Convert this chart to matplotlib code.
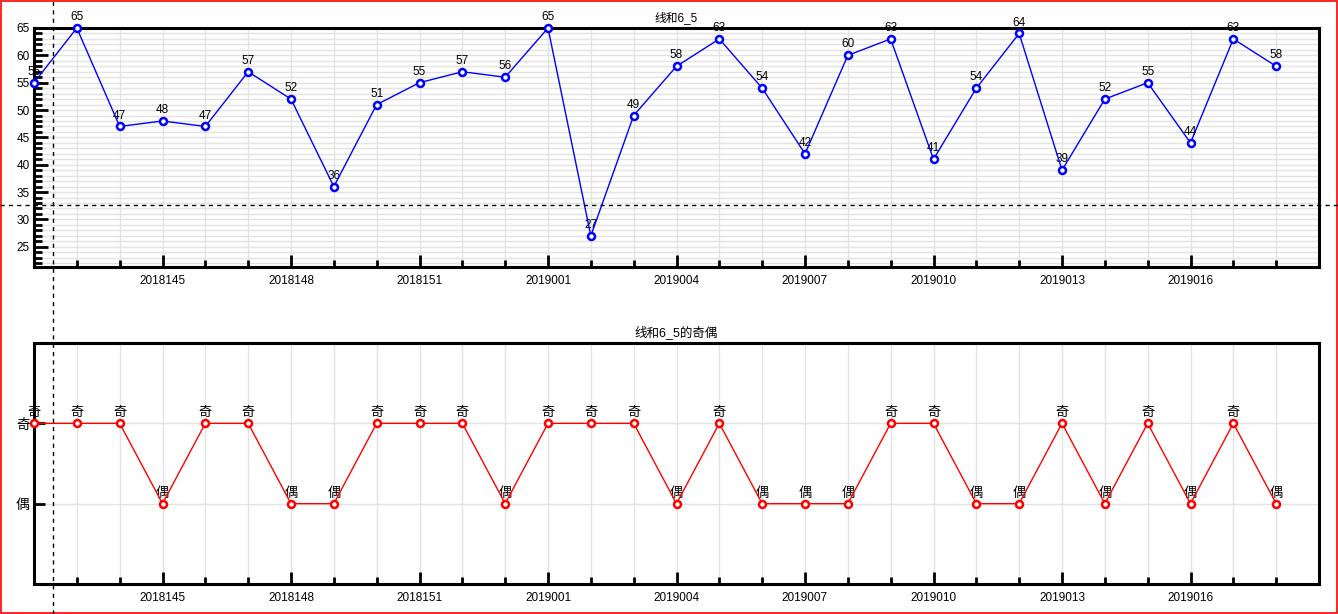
import matplotlib
matplotlib.use("Agg")
import matplotlib.pyplot as plt
from matplotlib.ticker import MultipleLocator, FixedLocator, FixedFormatter
from matplotlib.lines import Line2D
from matplotlib.patches import Rectangle

plt.rcParams['font.family'] = ['Liberation Sans', 'Noto Sans CJK SC', 'DejaVu Sans']

# issue numbers (one per point) and values
issues = ["2018142", "2018143", "2018144", "2018145", "2018146", "2018147",
          "2018148", "2018149", "2018150", "2018151", "2018152", "2018153",
          "2019001", "2019002", "2019003", "2019004", "2019005", "2019006",
          "2019007", "2019008", "2019009", "2019010", "2019011", "2019012",
          "2019013", "2019014", "2019015", "2019016", "2019017", "2019018"]
line_sum = [55, 65, 47, 48, 47, 57, 52, 36, 51, 55, 57, 56, 65, 27, 49,
            58, 63, 54, 42, 60, 63, 41, 54, 64, 39, 52, 55, 44, 63, 58]
parity = ["奇", "奇", "奇", "偶", "奇", "奇", "偶", "偶", "奇", "奇", "奇", "偶",
          "奇", "奇", "奇", "偶", "奇", "偶", "偶", "偶", "奇", "奇", "偶", "偶",
          "奇", "偶", "奇", "偶", "奇", "偶"]
parity_levels = ["偶", "奇"]

xs = list(range(len(issues)))
label_pos = [3, 6, 9, 12, 15, 18, 21, 24, 27]

W, H = 1338, 614
fig = plt.figure(figsize=(W / 100, H / 100), dpi=100)
ax1 = fig.add_axes([34 / W, 1 - 267 / H, (1319 - 34) / W, (267 - 28) / H])
ax2 = fig.add_axes([34 / W, 1 - 584 / H, (1319 - 34) / W, (584 - 343) / H])

grid_c = "#e3e3e3"


def style_axes(ax):
    for s in ax.spines.values():
        s.set_linewidth(2.2)
        s.set_color("black")
    ax.set_xlim(0, 30)
    ax.xaxis.set_major_locator(FixedLocator(list(range(0, 31, 3))))
    ax.xaxis.set_minor_locator(MultipleLocator(1))
    ax.set_xticklabels([issues[i] if i in label_pos else "" for i in range(0, 31, 3)])
    ax.tick_params(axis="x", which="major", direction="in", length=9, width=2,
                   labelsize=8.5, pad=6)
    ax.tick_params(axis="x", which="minor", direction="in", length=5, width=2)
    ax.grid(True, which="both", axis="x", color=grid_c, lw=1)
    ax.set_axisbelow(True)
    # draw x axis (its ticks) after the y grid lines
    ax.yaxis.set_zorder(0.4)
    ax.xaxis.set_zorder(0.6)


# top chart
style_axes(ax1)
ax1.set_ylim(21.3, 65)
ax1.yaxis.set_major_locator(MultipleLocator(5))
ax1.yaxis.set_minor_locator(MultipleLocator(1))
ax1.tick_params(axis="y", which="major", direction="in", length=10, width=2,
                labelsize=8.5, pad=3)
ax1.tick_params(axis="y", which="minor", direction="in", length=6, width=2)
ax1.grid(True, which="both", axis="y", color=grid_c, lw=1)
ax1.plot(xs, line_sum, color="blue", lw=1, marker="o", ms=5, mew=1.8,
         mfc="white", mec="blue", clip_on=False, zorder=5)
for x, v in zip(xs, line_sum):
    ax1.annotate(str(v), (x, v), xytext=(0, 3.5), textcoords="offset points",
                 ha="center", va="bottom", fontsize=8.5, annotation_clip=False)
ax1.set_title("线和6_5", fontsize=8.5, pad=5)

# bottom chart
style_axes(ax2)
pv = [parity_levels.index(p) for p in parity]
ax2.set_ylim(-1, 2)
ax2.yaxis.set_major_locator(FixedLocator([0, 1]))
ax2.yaxis.set_major_formatter(FixedFormatter(parity_levels))
ax2.tick_params(axis="y", which="major", direction="in", length=8, width=2,
                labelsize=10, pad=3)
ax2.grid(True, which="major", axis="y", color=grid_c, lw=1)
ax2.plot(xs, pv, color="red", lw=1, marker="o", ms=5, mew=1.8,
         mfc="white", mec="red", clip_on=False, zorder=5)
for x, v, p in zip(xs, pv, parity):
    ax2.annotate(p, (x, v), xytext=(0, 3), textcoords="offset points",
                 ha="center", va="bottom", fontsize=9.5, annotation_clip=False)
ax2.set_title("线和6_5的奇偶", fontsize=9, pad=5)

# crosshair and frame
fig.add_artist(Line2D([53 / W, 53 / W], [0, 1], transform=fig.transFigure,
                      color="black", lw=1, ls=(0, (3, 3))))
fig.add_artist(Line2D([0, 1], [1 - 205 / H, 1 - 205 / H], transform=fig.transFigure,
                      color="black", lw=1, ls=(0, (3, 3))))
fig.add_artist(Rectangle((0.0004, 0.001), 0.9988, 0.997, transform=fig.transFigure,
                         fill=False, edgecolor="red", lw=1.2))

fig.savefig("out.png", dpi=100)
